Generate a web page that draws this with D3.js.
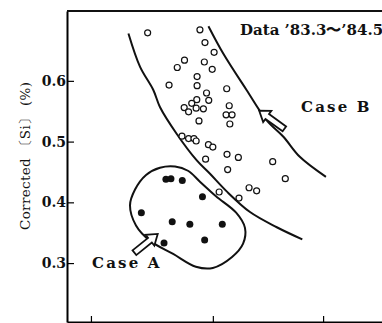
<!DOCTYPE html>
<html>
<head>
<meta charset="utf-8">
<script src="https://cdn.jsdelivr.net/npm/d3@7"></script>
<style>
  body { margin: 0; background: #fff; }
  svg { display: block; }
  text { font-family: "DejaVu Serif", "Liberation Serif", serif; fill: #111; }
</style>
</head>
<body>
<div id="chart-area"></div>
<script>
// y ticks (Corrected [Si] %), x axis carries no labels in the original
const yTicks = [0.3, 0.4, 0.5, 0.6];
const xTicks = [7.6, 46.3, 81.3];

// open circles : data '83.3 ~ '84.5 (Case B)
const caseBx = [25.6, 42.2, 43.8, 46.7, 37.3, 35.0, 43.6, 46.1, 41.3, 41.3, 32.4, 44.3, 45.0, 50.7,
    41.2, 39.6, 37.2, 38.6, 41.0, 43.3, 51.5, 50.5, 52.4, 51.7, 41.9, 36.5, 38.6, 40.3, 41.0, 44.9,
    46.3, 50.8, 54.4, 44.0, 51.0, 65.3, 69.3, 57.8, 60.2, 48.3, 54.6];
const caseBy = [0.679, 0.684, 0.663, 0.647, 0.634, 0.622, 0.631, 0.619, 0.607, 0.592, 0.593, 0.580, 0.568, 0.587,
    0.569, 0.563, 0.556, 0.549, 0.555, 0.554, 0.559, 0.544, 0.544, 0.529, 0.534, 0.509, 0.505, 0.505, 0.501, 0.495,
    0.491, 0.479, 0.474, 0.471, 0.454, 0.467, 0.439, 0.424, 0.419, 0.417, 0.407];

// filled dots (Case A)
const caseAx = [31.4, 33.0, 36.6, 43.0, 23.6, 33.4, 39.0, 49.3, 43.7, 30.8];
const caseAy = [0.438, 0.439, 0.436, 0.409, 0.383, 0.368, 0.364, 0.364, 0.338, 0.333];

// hand drawn band for case B (two curves) and enclosing loop for case A
const bandLowX = [19.5, 23.2, 27.4, 29.5, 34.8, 41.2, 45.4, 50.7, 58.1, 66.6, 74.7];
const bandLowY = [0.678, 0.623, 0.585, 0.557, 0.513, 0.469, 0.447, 0.418, 0.384, 0.359, 0.339];
const bandHighX = [44.9, 49.6, 57.0, 63.4, 68.7, 73.9, 82.2];
const bandHighY = [0.690, 0.645, 0.585, 0.535, 0.508, 0.475, 0.442];
const loopX = [29.5, 34.3, 38.4, 42.2, 47.3, 53.7, 56.5, 55.9, 52.4, 46.3, 40.9, 33.7, 26.3, 21.9, 20.0, 21.6, 25.1];
const loopY = [0.457, 0.459, 0.452, 0.434, 0.410, 0.383, 0.358, 0.332, 0.310, 0.292, 0.294, 0.315, 0.337, 0.362, 0.395, 0.421, 0.445];

// arrows: [tailX, tailY, tipX, tipY]
const arrowB = [69.0, 0.521, 61.0, 0.551];
const arrowA = [21.4, 0.317, 28.8, 0.348];

const W = 382, H = 323;
const margin = { left: 67, top: 11, bottom: 322 };

const svg = d3.select("#chart-area").append("svg")
    .attr("width", W).attr("height", H);

const x = d3.scaleLinear().domain([0, 100]).range([margin.left, margin.left + 315]);
const y = d3.scaleLinear().domain([0.203, 0.715]).range([margin.bottom, margin.top]);

// axes
svg.append("g")
    .attr("transform", `translate(${margin.left},0)`)
    .call(d3.axisLeft(y).tickValues(yTicks).tickSizeInner(-7).tickSizeOuter(0).tickPadding(1).tickFormat(d3.format(".1f")))
    .call(g => g.select(".domain").attr("stroke-width", 2))
    .call(g => g.selectAll(".tick line").attr("stroke-width", 1.2))
    .call(g => g.selectAll(".tick text")
        .attr("font-family", "DejaVu Serif, serif")
        .attr("font-weight", "bold")
        .attr("font-size", 14));

svg.append("g")
    .attr("transform", `translate(0,${margin.bottom})`)
    .call(d3.axisBottom(x).tickValues(xTicks).tickSizeInner(-6).tickSizeOuter(0).tickFormat(""))
    .call(g => g.select(".domain").attr("stroke-width", 2))
    .call(g => g.selectAll(".tick line").attr("stroke-width", 1.2));

// top frame line
svg.append("line")
    .attr("x1", x(0)).attr("x2", x(100))
    .attr("y1", y(0.715)).attr("y2", y(0.715))
    .attr("stroke", "#111").attr("stroke-width", 2);

// y label
svg.append("text")
    .attr("transform", `translate(30,156) rotate(-90)`)
    .attr("text-anchor", "middle")
    .attr("font-size", 13.5)
    .attr("textLength", 148)
    .attr("lengthAdjust", "spacing")
    .text("Corrected 〔Si〕 (%)");

// curves
const line = d3.line().x(d => x(d[0])).y(d => y(d[1])).curve(d3.curveCatmullRom);
const zip = (a, b) => a.map((v, i) => [v, b[i]]);

svg.append("path")
    .attr("d", line(zip(bandLowX, bandLowY)))
    .attr("fill", "none").attr("stroke", "#111").attr("stroke-width", 2);
svg.append("path")
    .attr("d", line(zip(bandHighX, bandHighY)))
    .attr("fill", "none").attr("stroke", "#111").attr("stroke-width", 2);

const loop = d3.line().x(d => x(d[0])).y(d => y(d[1])).curve(d3.curveCatmullRomClosed);
svg.append("path")
    .attr("d", loop(zip(loopX, loopY)))
    .attr("fill", "none").attr("stroke", "#111").attr("stroke-width", 2);

// points
svg.append("g").selectAll("circle")
    .data(zip(caseBx, caseBy))
    .join("circle")
    .attr("cx", d => x(d[0]))
    .attr("cy", d => y(d[1]))
    .attr("r", 3)
    .attr("fill", "#fff")
    .attr("stroke", "#111")
    .attr("stroke-width", 1.2);

svg.append("g").selectAll("circle")
    .data(zip(caseAx, caseAy))
    .join("circle")
    .attr("cx", d => x(d[0]))
    .attr("cy", d => y(d[1]))
    .attr("r", 3.5)
    .attr("fill", "#111");

// hollow block arrows
function drawArrow(a) {
    const x0 = x(a[0]), y0 = y(a[1]), x1 = x(a[2]), y1 = y(a[3]);
    const len = Math.hypot(x1 - x0, y1 - y0);
    const ang = Math.atan2(y1 - y0, x1 - x0) * 180 / Math.PI;
    const hl = 10, hw = 7, sw = 3;
    const pts = [[0, -sw], [len - hl, -sw], [len - hl, -hw], [len, 0], [len - hl, hw], [len - hl, sw], [0, sw]];
    svg.append("path")
        .attr("transform", `translate(${x0},${y0}) rotate(${ang})`)
        .attr("d", "M" + pts.join("L") + "Z")
        .attr("fill", "#fff").attr("stroke", "#111").attr("stroke-width", 1.8)
        .attr("stroke-linejoin", "miter");
}
drawArrow(arrowB);
drawArrow(arrowA);

// annotations
svg.append("text").attr("x", 301).attr("y", 112)
    .attr("font-size", 15).attr("letter-spacing", 2.2).attr("font-weight", "bold")
    .attr("font-family", "Liberation Serif, serif")
    .text("Case B");
svg.append("text").attr("x", 92).attr("y", 268)
    .attr("font-size", 15).attr("letter-spacing", 2.2).attr("font-weight", "bold")
    .attr("font-family", "Liberation Serif, serif")
    .text("Case A");
svg.append("text").attr("x", 240).attr("y", 35)
    .attr("font-size", 15).attr("font-weight", "bold")
    .attr("font-family", "Liberation Serif, serif")
    .text("Data \u201983.3\u301c\u201984.5");
</script>
</body>
</html>
